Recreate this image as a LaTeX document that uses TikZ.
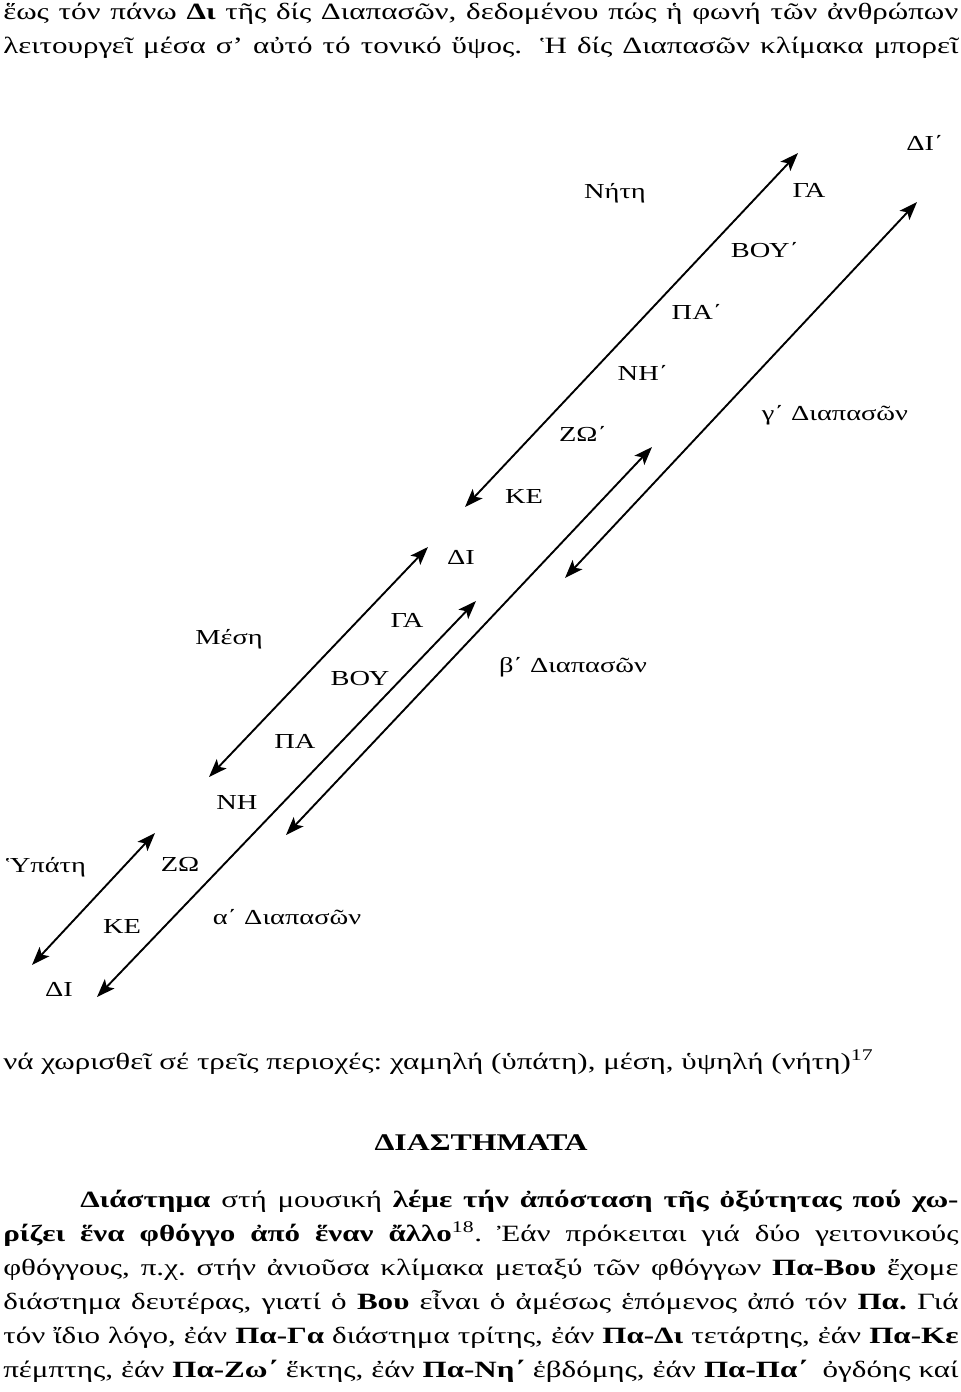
\documentclass[tikz,border=0pt]{standalone}
\usepackage{fontspec}
\setmainfont{Liberation Serif}
\newfontfamily\bodyfont{Liberation Serif}[FakeStretch=1.33]
\usetikzlibrary{arrows.meta}

\begin{document}
\frenchspacing
\begin{tikzpicture}[x=0.025cm, y=-0.025cm,
		lbl/.style={font=\bodyfont\fontsize{15.2}{18}\selectfont, inner sep=0pt},
		txt/.style={font=\bodyfont\fontsize{16.6}{24}\selectfont, inner sep=0pt, anchor=base west},
		dbl/.style={{Stealth[length=13pt, width=9.5pt, inset=3pt]}-{Stealth[length=13pt, width=9.5pt, inset=3pt]}, line width=1.35pt}
	]
	\useasboundingbox (0,0) rectangle (960,1392);

	\node[txt] (t1) at (3,20) {\makebox[23.875cm][s]{ἕως τόν πάνω \textbf{Δι} τῆς δίς Διαπασῶν, δεδομένου πώς ἡ φωνή τῶν ἀνθρώπων}};
	\node[txt] (t2) at (3,54) {\makebox[23.875cm][s]{λειτουργεῖ μέσα σ’ αὐτό τό τονικό ὕψος.\hspace{0.35em} Ἡ δίς Διαπασῶν κλίμακα μπορεῖ}};

	\coordinate (net1) at (465,507);
	\coordinate (net2) at (798,153);
	\coordinate (hig1) at (565,578);
	\coordinate (hig2) at (917,202);
	\coordinate (mid1) at (286,835);
	\coordinate (mid2) at (652,447);
	\coordinate (mes1) at (209,777);
	\coordinate (mes2) at (428,547);
	\coordinate (low1) at (97,997);
	\coordinate (low2) at (476,601);
	\coordinate (hyp1) at (32,965);
	\coordinate (hyp2) at (155,833);

	\draw[dbl] (net1) -- (net2);
	\draw[dbl] (hig1) -- (hig2);
	\draw[dbl] (mid1) -- (mid2);
	\draw[dbl] (mes1) -- (mes2);
	\draw[dbl] (low1) -- (low2);
	\draw[dbl] (hyp1) -- (hyp2);

	\node[lbl] (diC) at (925,143) {ΔΙ΄};
	\node[lbl] (nete) at (615,193) {Νήτη};
	\node[lbl] (gaB) at (809,190) {ΓΑ};
	\node[lbl] (vouB) at (765,250) {ΒΟΥ΄};
	\node[lbl] (paB) at (697,312) {ΠΑ΄};
	\node[lbl] (niB) at (643,373) {ΝΗ΄};
	\node[lbl] (diapC) at (835,415) {γ΄ Διαπασῶν};
	\node[lbl] (zoB) at (583,434) {ΖΩ΄};
	\node[lbl] (keB) at (524,496) {ΚΕ};
	\node[lbl] (diB) at (461,557) {ΔΙ};

	\node[lbl] (gaA) at (407,620) {ΓΑ};
	\node[lbl] (mese) at (229,639) {Μέση};
	\node[lbl] (vouA) at (360,679) {ΒΟΥ};
	\node[lbl] (diapB) at (573,667) {β΄ Διαπασῶν};
	\node[lbl] (paA) at (295,741) {ΠΑ};
	\node[lbl] (niA) at (237,802) {ΝΗ};

	\node[lbl] (hypate) at (46,867) {Ὑπάτη};
	\node[lbl] (zoA) at (180,864) {ΖΩ};
	\node[lbl] (keA) at (122,926) {ΚΕ};
	\node[lbl] (diapA) at (287,917) {α΄ Διαπασῶν};
	\node[lbl] (diA) at (59,989) {ΔΙ};

	\node[txt] (t3) at (3,1069) {νά χωρισθεῖ σέ τρεῖς περιοχές: χαμηλή (ὑπάτη), μέση, ὑψηλή (νήτη)\textsuperscript{17}};
	\node[txt, anchor=base, font=\bodyfont\fontsize{17}{20}\selectfont] (head) at (481,1150) {\textbf{ΔΙΑΣΤΗΜΑΤΑ}};

	\node[txt] (p1) at (80,1207) {\makebox[21.95cm][s]{\textbf{Διάστημα} στή μουσική \textbf{λέμε τήν ἀπόσταση τῆς ὀξύτητας πού χω-}}};
	\node[txt] (p2) at (3,1241) {\makebox[23.875cm][s]{\textbf{ρίζει ἕνα φθόγγο ἀπό ἕναν ἄλλο}\textsuperscript{18}. Ἐάν πρόκειται γιά δύο γειτονικούς}};
	\node[txt] (p3) at (3,1275) {\makebox[23.875cm][s]{φθόγγους, π.χ. στήν ἀνιοῦσα κλίμακα μεταξύ τῶν φθόγγων \textbf{Πα-Βου} ἔχομε}};
	\node[txt] (p4) at (3,1309) {\makebox[23.875cm][s]{διάστημα δευτέρας, γιατί ὁ \textbf{Βου} εἶναι ὁ ἀμέσως ἑπόμενος ἀπό τόν \textbf{Πα.} Γιά}};
	\node[txt] (p5) at (3,1343) {\makebox[23.875cm][s]{τόν ἴδιο λόγο, ἐάν \textbf{Πα-Γα} διάστημα τρίτης, ἐάν \textbf{Πα-Δι} τετάρτης, ἐάν \textbf{Πα-Κε}}};
	\node[txt] (p6) at (3,1377) {\makebox[23.875cm][s]{πέμπτης, ἐάν \textbf{Πα-Ζω΄} ἕκτης, ἐάν \textbf{Πα-Νη΄} ἑβδόμης, ἐάν \textbf{Πα-Πα΄}\hspace{0.3em} ὀγδόης καί}};
\end{tikzpicture}
\end{document}
